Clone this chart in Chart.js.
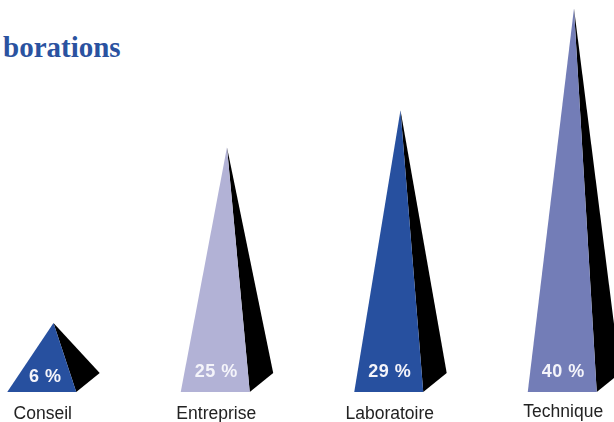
<!DOCTYPE html>
<html lang="fr">
<head>
<meta charset="utf-8">
<title>Collaborations</title>
<script src="https://cdn.jsdelivr.net/npm/chart.js@4/dist/chart.umd.min.js"></script>
<style>
    html, body { margin: 0; height: 100%; background: #fff; overflow: hidden; }
    #heading {
        position: absolute; left: 3px; top: 30px; margin: 0;
        font: bold 29px "Liberation Serif", serif; color: #2a52a0; line-height: 34px;
    }
    /* the canvas is wider than the window so the last pyramid runs off the right edge */
    #pyramids { position: absolute; left: -45px; top: 0; }
</style>
</head>
<body>
<h1 id="heading">borations</h1>
<canvas id="pyramids" width="694" height="422"></canvas>
<script>
// données du graphique
const categories = ["Conseil", "Entreprise", "Laboratoire", "Technique"];
const shares = [6, 25, 29, 40];

const faceColors = ["#27509f", "#b2b2d6", "#27509f", "#737db7"];
const sideColor = "#000000";
const yMin = -1.46;

// dessine chaque barre comme une pyramide, a partir de la geometrie calculee par Chart.js
const pyramidPlugin = {
    id: "pyramid",
    beforeDatasetDraw() {
        return false; // on ne veut pas des rectangles
    },
    afterDatasetsDraw(chart) {
        const ctx = chart.ctx;
        chart.getDatasetMeta(0).data.forEach((bar, i) => {
            const left = bar.x - bar.width / 2;
            const right = bar.x + bar.width / 2;
            const apexX = bar.x + bar.width * 0.17;

            // face sombre
            ctx.fillStyle = sideColor;
            ctx.beginPath();
            ctx.moveTo(apexX, bar.y);
            ctx.lineTo(right, bar.base);
            ctx.lineTo(right + bar.width * 0.34, bar.base - 19);
            ctx.closePath();
            ctx.fill();

            // face avant
            ctx.fillStyle = bar.options.backgroundColor;
            ctx.beginPath();
            ctx.moveTo(apexX, bar.y);
            ctx.lineTo(left, bar.base);
            ctx.lineTo(right, bar.base);
            ctx.closePath();
            ctx.fill();

            // pourcentage, un peu plus bas sur la petite pyramide
            ctx.save();
            ctx.font = "bold 18px 'Liberation Sans', Arial, sans-serif";
            ctx.letterSpacing = "0.5px";
            ctx.fillStyle = "#f4f4fa";
            ctx.textAlign = "center";
            ctx.textBaseline = "middle";
            ctx.fillText(shares[i] + " %", bar.x + (shares[i] < 10 ? 3.5 : 1), bar.base - (shares[i] < 10 ? 15 : 20));
            ctx.restore();
        });
    }
};

new Chart(document.getElementById("pyramids"), {
    type: "bar",
    data: {
        labels: categories,
        datasets: [{
            data: shares,
            base: yMin,
            backgroundColor: faceColors,
            barThickness: 69
        }]
    },
    options: {
        responsive: false,
        animation: false,
        layout: { padding: 0 },
        plugins: {
            legend: { display: false },
            tooltip: { enabled: false },
            title: { display: false }
        },
        scales: {
            x: {
                grid: { display: false, drawTicks: false },
                border: { display: false },
                afterFit: scale => { scale.height = 30; },
                ticks: {
                    color: "#222222",
                    // "Technique" sits slightly higher than the others
                    font: ctx => ({
                        family: "'Liberation Sans', Arial, sans-serif",
                        size: 17.5,
                        lineHeight: ctx.index === 3 ? 1.0 : 1.25
                    }),
                    padding: 11,
                    labelOffset: 1,
                    maxRotation: 0,
                    autoSkip: false
                }
            },
            y: { display: false, min: yMin, max: 40.92 }
        }
    },
    plugins: [pyramidPlugin]
});
</script>
</body>
</html>
